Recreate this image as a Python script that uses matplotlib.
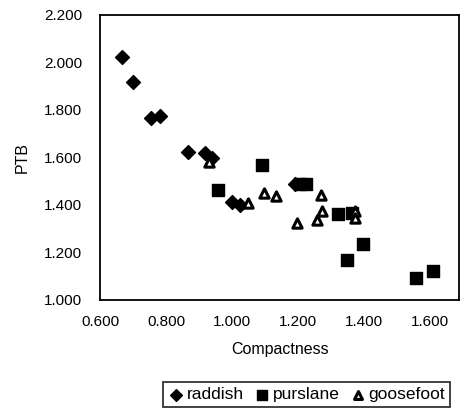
import matplotlib
matplotlib.use("Agg")
import matplotlib.pyplot as plt
from matplotlib.ticker import FuncFormatter

plt.rcParams['font.family'] = ['Liberation Sans', 'DejaVu Sans']

# data
raddish_x = [0.666, 0.701, 0.754, 0.782, 0.868, 0.918, 0.938, 1.001, 1.024, 1.191]
raddish_y = [2.022, 1.918, 1.768, 1.775, 1.622, 1.618, 1.596, 1.414, 1.400, 1.488]

purslane_x = [0.956, 1.090, 1.206, 1.225, 1.322, 1.362, 1.348, 1.397, 1.558, 1.610]
purslane_y = [1.463, 1.570, 1.490, 1.490, 1.362, 1.364, 1.168, 1.236, 1.094, 1.123]

goosefoot_x = [0.931, 1.048, 1.097, 1.132, 1.196, 1.268, 1.272, 1.257, 1.373, 1.373]
goosefoot_y = [1.580, 1.410, 1.449, 1.436, 1.326, 1.442, 1.376, 1.337, 1.376, 1.344]

x_ticks = [0.6, 0.8, 1.0, 1.2, 1.4, 1.6]
y_ticks = [1.0, 1.2, 1.4, 1.6, 1.8, 2.0, 2.2]

fig = plt.figure(figsize=(4.61, 4.16), dpi=100)
ax = fig.add_axes([0.217, 0.279, 0.779, 0.685])

ax.scatter(raddish_x, raddish_y, marker='D', s=50, color='black', label='raddish', zorder=3)
ax.scatter(purslane_x, purslane_y, marker='s', s=75, color='black', label='purslane', zorder=3)
ax.scatter(goosefoot_x, goosefoot_y, marker='^', s=45, facecolor='white', edgecolor='black',
           linewidth=2.2, label='goosefoot', zorder=4)

ax.set_xlim(0.6, 1.688)
ax.set_ylim(1.0, 2.2)
ax.set_xticks(x_ticks)
ax.set_yticks(y_ticks)
fmt = FuncFormatter(lambda v, p: f"{v:.3f}")
ax.xaxis.set_major_formatter(fmt)
ax.yaxis.set_major_formatter(fmt)
ax.tick_params(length=0, labelsize=11)
ax.tick_params(axis='y', pad=13)
ax.tick_params(axis='x', pad=11)

for sp in ax.spines.values():
    sp.set_linewidth(1.3)

ax.set_xlabel('Compactness', fontsize=11.5, labelpad=9)
ax.set_ylabel('PTB', fontsize=11.5, labelpad=10)

leg = fig.legend(loc='lower right', bbox_to_anchor=(0.995, 0.0), ncol=3, fontsize=12.5,
                 frameon=True, fancybox=False, edgecolor='black', handletextpad=0.15,
                 columnspacing=0.6, borderpad=0.3, markerscale=0.85, handlelength=0.9)
leg.get_frame().set_linewidth(1.3)

fig.savefig('out.png', dpi=100)
